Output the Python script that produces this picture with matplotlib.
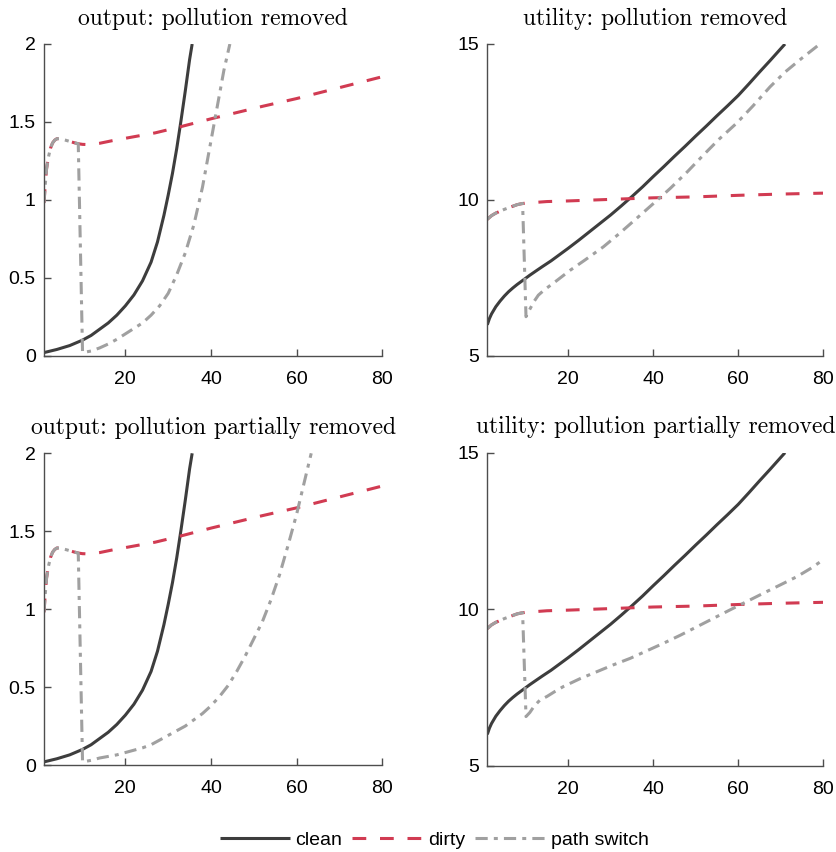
import matplotlib
matplotlib.use("Agg")
import matplotlib.pyplot as plt
from matplotlib.ticker import FuncFormatter

# ---------------- data ----------------
# output, clean path (same in both output panels)
t_clean_out = [1, 4, 7, 10, 12, 14, 16, 18, 20, 22, 24, 26, 27.5, 29, 30, 31, 32, 33, 34, 35, 35.6]
clean_out = [0.02, 0.04, 0.065, 0.10, 0.13, 0.17, 0.21, 0.26, 0.32, 0.39, 0.48, 0.60, 0.73,
             0.90, 1.03, 1.17, 1.33, 1.51, 1.70, 1.90, 2.0]

# output, dirty path
t_dirty_out = [1, 1.3, 1.6, 2, 2.5, 3, 3.5, 4, 4.5, 5, 6, 7, 8, 9, 10, 11, 12, 14, 17, 21,
               27, 33, 40, 46, 52, 60, 70, 80]
dirty_out = [0.98, 1.10, 1.20, 1.27, 1.33, 1.365, 1.383, 1.392, 1.393, 1.39, 1.383, 1.375,
             1.367, 1.36, 1.356, 1.355, 1.356, 1.363, 1.38, 1.40, 1.43, 1.47, 1.52, 1.56,
             1.60, 1.65, 1.72, 1.79]

# output, path switch (common part before the switch)
t_switch_out_head = [1, 1.3, 1.6, 2, 2.5, 3, 3.5, 4, 4.5, 5, 6, 7, 8, 9]
switch_out_head = [0.98, 1.10, 1.20, 1.27, 1.33, 1.365, 1.383, 1.392, 1.393, 1.39, 1.383,
                   1.375, 1.367, 1.36]
# pollution removed
t_switch_out_rem = [10, 12, 14, 16, 18, 20, 22, 24, 26, 28, 30, 32, 34, 36, 38, 40, 41, 42,
                    43, 44.4]
switch_out_rem = [0.02, 0.03, 0.05, 0.075, 0.105, 0.14, 0.175, 0.21, 0.26, 0.32, 0.40, 0.52,
                  0.66, 0.84, 1.08, 1.38, 1.53, 1.68, 1.83, 2.0]
# pollution partially removed
t_switch_out_part = [10, 12, 14, 16, 18, 20, 22, 24, 26, 28, 30, 32, 34, 36, 38, 40, 42, 44,
                     46, 48, 50, 52, 54, 56, 58, 60, 62, 63.4]
switch_out_part = [0.02, 0.03, 0.045, 0.055, 0.065, 0.08, 0.095, 0.11, 0.13, 0.16, 0.19,
                   0.22, 0.25, 0.29, 0.33, 0.38, 0.44, 0.51, 0.60, 0.70, 0.81, 0.92, 1.06,
                   1.22, 1.41, 1.61, 1.84, 2.0]

# utility, clean path
t_clean_util = [1, 1.5, 2, 3, 4, 5, 6, 7, 8, 9.5, 11, 12.6, 14, 16, 18, 20, 22.5, 25, 27.5,
                30, 32.5, 35, 37.5, 40, 42.5, 45, 47.5, 50, 52.5, 55, 57.5, 60, 62.5, 65,
                67.5, 70, 71]
clean_util = [6.0, 6.2, 6.35, 6.58, 6.76, 6.92, 7.06, 7.18, 7.29, 7.44, 7.59, 7.74, 7.87,
              8.05, 8.25, 8.45, 8.71, 8.98, 9.25, 9.52, 9.81, 10.11, 10.42, 10.75, 11.07,
              11.4, 11.72, 12.05, 12.37, 12.7, 13.02, 13.35, 13.72, 14.1, 14.47, 14.85, 15.0]

# utility, dirty path
t_dirty_util = [1, 1.5, 2, 3, 4, 5, 6, 7, 8, 9, 10, 15, 20, 30, 40, 50, 60, 70, 80]
dirty_util = [9.38, 9.44, 9.5, 9.58, 9.64, 9.7, 9.75, 9.8, 9.85, 9.88, 9.9, 9.95, 9.97,
              10.02, 10.07, 10.1, 10.15, 10.19, 10.22]

# utility, path switch
t_switch_util_head = [1, 1.5, 2, 3, 4, 5, 6, 7, 8, 9.3]
switch_util_head = [9.38, 9.44, 9.5, 9.58, 9.64, 9.7, 9.75, 9.8, 9.85, 9.89]
t_switch_util_rem = [10.1, 11, 12, 13, 14.5, 16.5, 18.5, 20.4, 24, 28.3, 32, 36.1, 40, 44,
                     48, 51.8, 55.5, 59.6, 63.5, 67.5, 71, 75, 79.2]
switch_util_rem = [6.26, 6.5, 6.75, 6.95, 7.13, 7.33, 7.54, 7.74, 8.08, 8.5, 8.92, 9.41,
                   9.88, 10.37, 10.9, 11.44, 11.95, 12.46, 13.02, 13.63, 14.1, 14.55, 15.0]
t_switch_util_part = [10.1, 11, 12, 13.4, 15, 17, 18.9, 22.8, 26.7, 30.6, 34.6, 38.5, 42.4,
                      46.4, 50.3, 54.2, 58.1, 61.2, 65.9, 69.8, 73.8, 77, 80]
switch_util_part = [6.57, 6.7, 6.9, 7.1, 7.21, 7.38, 7.53, 7.78, 8.0, 8.22, 8.43, 8.67, 8.91,
                    9.17, 9.44, 9.71, 9.98, 10.19, 10.51, 10.77, 11.04, 11.3, 11.58]

titles = ["output: pollution removed", "utility: pollution removed",
          "output: pollution partially removed", "utility: pollution partially removed"]
series_names = ["clean", "dirty", "path switch"]
x_ticks = [20, 40, 60, 80]
out_ticks = [0, 0.5, 1, 1.5, 2]
util_ticks = [5, 10, 15]

# ---------------- style ----------------
C_CLEAN = "#3d3d3d"
C_DIRTY = "#d13b52"
C_SWITCH = "#a0a0a0"
LW = 2.2
TICK_FONT = "Liberation Sans"
TITLE_FONT = "cmr10"

W, H = 837, 852
fig = plt.figure(figsize=(W / 100, H / 100), dpi=100)


def px_axes(left, right, top, bottom):
    return fig.add_axes([left / W, 1 - bottom / H, (right - left) / W, (bottom - top) / H])


ax_tl = px_axes(44, 382.3, 44, 355.7)
ax_tr = px_axes(487.3, 823.3, 44, 356)
ax_bl = px_axes(44, 382.3, 453.3, 765)
ax_br = px_axes(487.3, 823.3, 452.7, 765.7)

fmt = FuncFormatter(lambda v, p: "%g" % v)


def draw(ax, tc, c, td, d, ts, s, ylim, yticks, title):
    ax.plot(tc, c, color=C_CLEAN, lw=LW, solid_capstyle="butt", solid_joinstyle="round",
            label=series_names[0])
    ax.plot(td, d, color=C_DIRTY, lw=LW, dashes=(4.5, 4.5), label=series_names[1])
    ax.plot(ts, s, color=C_SWITCH, lw=LW, dashes=(4, 2, 1.3, 2), label=series_names[2])
    ax.set_xlim(1, 80)
    ax.set_ylim(*ylim)
    ax.set_xticks(x_ticks)
    ax.set_yticks(yticks)
    ax.yaxis.set_major_formatter(fmt)
    for sp in ["top", "right"]:
        ax.spines[sp].set_visible(False)
    for sp in ["left", "bottom"]:
        ax.spines[sp].set_color("#4d4d4d")
        ax.spines[sp].set_linewidth(1.0)
    ax.tick_params(direction="in", length=5, width=1.0, color="#4d4d4d",
                   labelsize=14, labelcolor="black")
    ax.tick_params(axis="x", pad=11)
    ax.tick_params(axis="y", pad=6)
    for lab in ax.get_xticklabels() + ax.get_yticklabels():
        lab.set_fontfamily(TICK_FONT)
    ax.set_title(title, fontfamily=TITLE_FONT, fontsize=17, pad=14)


draw(ax_tl, t_clean_out, clean_out, t_dirty_out, dirty_out,
     t_switch_out_head + t_switch_out_rem, switch_out_head + switch_out_rem,
     (0, 2), out_ticks, titles[0])
draw(ax_tr, t_clean_util, clean_util, t_dirty_util, dirty_util,
     t_switch_util_head + t_switch_util_rem, switch_util_head + switch_util_rem,
     (5, 15), util_ticks, titles[1])
draw(ax_bl, t_clean_out, clean_out, t_dirty_out, dirty_out,
     t_switch_out_head + t_switch_out_part, switch_out_head + switch_out_part,
     (0, 2), out_ticks, titles[2])
draw(ax_br, t_clean_util, clean_util, t_dirty_util, dirty_util,
     t_switch_util_head + t_switch_util_part, switch_util_head + switch_util_part,
     (5, 15), util_ticks, titles[3])

handles, labels = ax_tl.get_legend_handles_labels()
fig.legend(handles, labels, loc="center", bbox_to_anchor=(434 / W, 1 - 840 / H), ncol=3,
           frameon=False, handlelength=3.6, handletextpad=0.3, columnspacing=0.5,
           prop={"family": TICK_FONT, "size": 14})

fig.savefig("out.png", dpi=100)
